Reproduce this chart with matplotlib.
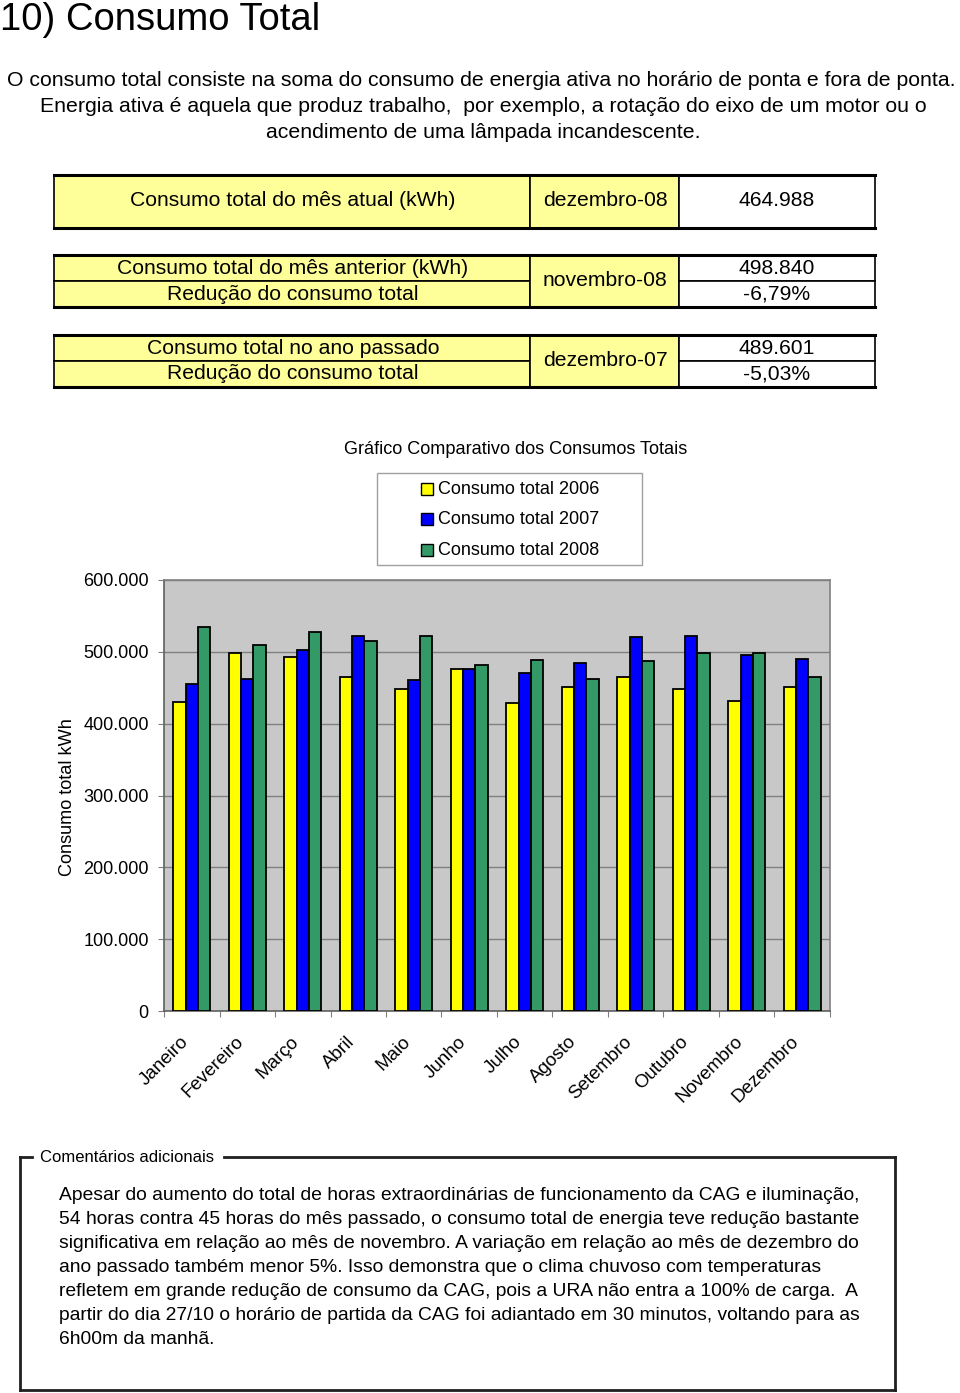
import matplotlib
matplotlib.use("Agg")
import matplotlib.pyplot as plt
from matplotlib.patches import Rectangle
from matplotlib.lines import Line2D
import numpy as np

plt.rcParams['font.family'] = ['Liberation Sans', 'DejaVu Sans']

months = ["Janeiro", "Fevereiro", "Março", "Abril", "Maio", "Junho", "Julho",
          "Agosto", "Setembro", "Outubro", "Novembro", "Dezembro"]
consumo_2006 = [429.7, 498.4, 492.3, 464.5, 448.7, 475.6, 428.3, 451.5, 464.5, 448.7, 431.1, 451.5]
consumo_2007 = [455.2, 461.7, 502.1, 521.6, 461.3, 476.6, 470.1, 484.0, 520.6, 522.0, 496.1, 489.601]
consumo_2008 = [534.1, 509.5, 527.6, 514.6, 521.6, 482.1, 488.6, 462.6, 487.2, 497.9, 498.84, 464.988]
series_labels = ["Consumo total 2006", "Consumo total 2007", "Consumo total 2008"]
series_colors = ["#FFFF00", "#0000FF", "#339966"]
yticks = [0, 100, 200, 300, 400, 500, 600]
ytick_labels = ["0", "100.000", "200.000", "300.000", "400.000", "500.000", "600.000"]

W, H = 960, 1393
fig = plt.figure(figsize=(W / 100, H / 100), dpi=100)

def fx(x):
    return x / W

def fy(y):
    return 1 - y / H

def ftext(x, y, s, **kw):
    fig.text(fx(x), fy(y), s, **kw)

# Title
ftext(0, 20, "10) Consumo Total", fontsize=27.5, ha='left', va='center')

# Intro paragraph
intro = [
    (481, 81, "O consumo total consiste na soma do consumo de energia ativa no horário de ponta e fora de ponta."),
    (483, 107, "Energia ativa é aquela que produz trabalho,  por exemplo, a rotação do eixo de um motor ou o"),
    (483, 133, "acendimento de uma lâmpada incandescente."),
]
for x, y, s in intro:
    ftext(x, y, s, fontsize=15.3, ha='center', va='center')

# Tables
yel = "#FFFF99"
TF = 15.2
def rect(x0, y0, x1, y1, fc, lw=1.2):
    fig.patches.append(Rectangle((fx(x0), fy(y1)), fx(x1) - fx(x0), fy(y0) - fy(y1),
                                 transform=fig.transFigure, facecolor=fc,
                                 edgecolor='black', linewidth=lw, zorder=1))

def hline(x0, x1, y, lw=2.2):
    fig.add_artist(Line2D([fx(x0), fx(x1)], [fy(y), fy(y)], color='black', lw=lw, zorder=2))

c1, c2, c3, c4 = 54, 530, 679, 875
# table 1
rect(c1, 175, c2, 228, yel)
rect(c2, 175, c3, 228, yel)
rect(c3, 175, c4, 228, 'white')
hline(c1, c4, 175); hline(c1, c4, 228)
ftext(293, 201, "Consumo total do mês atual (kWh)", fontsize=TF, ha='center', va='center')
ftext(605, 201, "dezembro-08", fontsize=TF, ha='center', va='center')
ftext(777, 201, "464.988", fontsize=TF, ha='center', va='center')

tables = [
    (255, 307, "Consumo total do mês anterior (kWh)", "Redução do consumo total", "novembro-08", "498.840", "-6,79%"),
    (335, 387, "Consumo total no ano passado", "Redução do consumo total", "dezembro-07", "489.601", "-5,03%"),
]
for top, bot, l1, l2, mid, v1, v2 in tables:
    midy = (top + bot) / 2
    rect(c1, top, c2, midy, yel)
    rect(c1, midy, c2, bot, yel)
    rect(c2, top, c3, bot, yel)
    rect(c3, top, c4, midy, 'white')
    rect(c3, midy, c4, bot, 'white')
    hline(c1, c4, top); hline(c1, c4, bot)
    ftext(293, top + 13, l1, fontsize=TF, ha='center', va='center')
    ftext(293, bot - 13, l2, fontsize=TF, ha='center', va='center')
    ftext(605, midy, mid, fontsize=TF, ha='center', va='center')
    ftext(777, top + 13, v1, fontsize=TF, ha='center', va='center')
    ftext(777, bot - 13, v2, fontsize=TF, ha='center', va='center')

# Chart
ax = fig.add_axes([fx(164), fy(1011), (830 - 164) / W, (1011 - 580) / H])
ax.set_facecolor("#C8C8C8")
x = np.arange(len(months))
bw = 0.22
for i, (vals, col, lab) in enumerate(zip([consumo_2006, consumo_2007, consumo_2008],
                                         series_colors, series_labels)):
    ax.bar(x + (i - 1) * bw, vals, width=bw, color=col, edgecolor='black',
           linewidth=1.3, label=lab, zorder=3)
ax.set_xlim(-0.5, len(months) - 0.5)
ax.set_ylim(0, 600)
ax.set_yticks(yticks)
ax.set_yticklabels(ytick_labels, fontsize=13)
ax.yaxis.grid(True, color='#808080', linewidth=1.0, zorder=0)
ax.set_axisbelow(True)
ax.set_xticks(np.arange(len(months) + 1) - 0.5, minor=False)
ax.set_xticklabels([])
ax.set_xticks(x, minor=True)
ax.set_xticklabels(months, minor=True, rotation=45, ha='right', va='top',
                   fontsize=13.5, rotation_mode='default')
ax.tick_params(axis='x', which='minor', length=0, pad=16)
ax.tick_params(axis='x', which='major', length=4, color='#808080')
ax.tick_params(axis='y', length=4, color='#808080', pad=7)
for s in ax.spines.values():
    s.set_color('#808080')
    s.set_linewidth(1.2)
ax.spines['left'].set_color('#606060')
ax.spines['bottom'].set_color('#606060')

ftext(516, 449, "Gráfico Comparativo dos Consumos Totais", fontsize=13.1, ha='center', va='center')
ftext(67, 797, "Consumo total kWh", fontsize=13.1, ha='center', va='center', rotation=90)

# Legend box
fig.patches.append(Rectangle((fx(377), fy(565)), (642 - 377) / W, (565 - 473) / H,
                             transform=fig.transFigure, facecolor='white',
                             edgecolor='#A0A0A0', linewidth=1.0, zorder=1))
for i, (lab, col) in enumerate(zip(series_labels, series_colors)):
    yy = 489 + i * 30.5
    fig.patches.append(Rectangle((fx(421), fy(yy + 6)), 12 / W, 12 / H,
                                 transform=fig.transFigure, facecolor=col,
                                 edgecolor='black', linewidth=1.0, zorder=2))
    ftext(438, yy, lab, fontsize=13, ha='left', va='center')

# Comments box
lw = 2.0
bc = '#202020'
fig.add_artist(Line2D([fx(20), fx(20)], [fy(1157), fy(1390)], color=bc, lw=lw))
fig.add_artist(Line2D([fx(20), fx(895)], [fy(1390), fy(1390)], color=bc, lw=lw))
fig.add_artist(Line2D([fx(895), fx(895)], [fy(1157), fy(1390)], color=bc, lw=lw))
fig.add_artist(Line2D([fx(20), fx(32)], [fy(1157), fy(1157)], color=bc, lw=lw))
fig.add_artist(Line2D([fx(224), fx(895)], [fy(1157), fy(1157)], color=bc, lw=lw))
ftext(40, 1157, "Comentários adicionais", fontsize=12, ha='left', va='center',
      fontstretch='condensed')

comments = [
    "Apesar do aumento do total de horas extraordinárias de funcionamento da CAG e iluminação,",
    "54 horas contra 45 horas do mês passado, o consumo total de energia teve redução bastante",
    "significativa em relação ao mês de novembro. A variação em relação ao mês de dezembro do",
    "ano passado também menor 5%. Isso demonstra que o clima chuvoso com temperaturas",
    "refletem em grande redução de consumo da CAG, pois a URA não entra a 100% de carga.  A",
    "partir do dia 27/10 o horário de partida da CAG foi adiantado em 30 minutos, voltando para as",
    "6h00m da manhã.",
]
for i, line in enumerate(comments):
    ftext(59, 1195 + i * 24, line, fontsize=13.85, ha='left', va='center')

fig.savefig("out.png", dpi=100)
